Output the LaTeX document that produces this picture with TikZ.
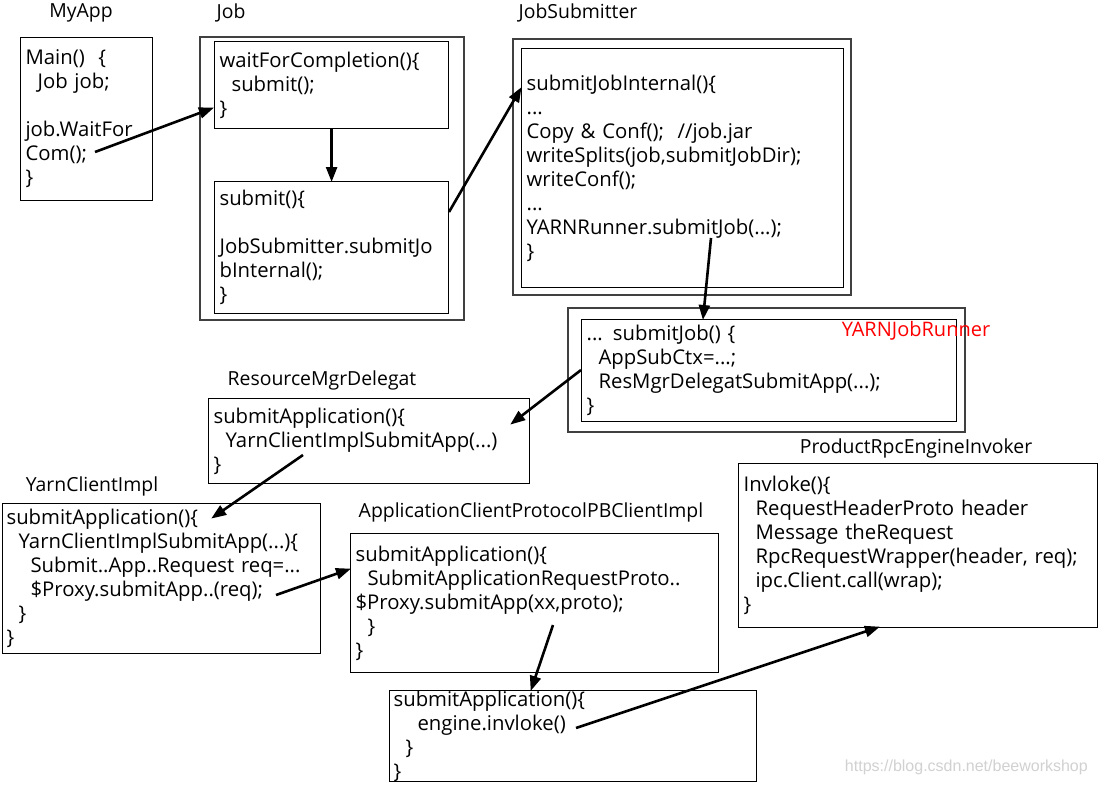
\documentclass[tikz,border=0pt]{standalone}
\usepackage{fontspec}
\setmainfont{Open Sans}
\newfontfamily\wmfont{Liberation Sans}
\usetikzlibrary{arrows.meta}
\newcommand{\ind}[1]{\hspace*{#1\dimexpr 12pt\relax}}
\tikzset{
  codebox/.style={draw=black, line width=1.2pt, anchor=north west, align=left,
    inner xsep=5pt, inner ysep=0pt, font=\fontsize{20.3}{24}\selectfont},
  outerbox/.style={draw=black!75, line width=1.2pt},
  title/.style={font=\fontsize{19.4}{22}\selectfont, inner sep=0pt},
  call/.style={line width=2.6pt, -{Triangle[length=15pt,width=11pt]}, shorten >=-1pt}
}
\begin{document}
\begin{tikzpicture}[x=1pt,y=-1pt]
\useasboundingbox[fill=white] (0,0) rectangle (1098,785);

% titles
\node[title] (tmyapp) at (81,13) {MyApp};
\node[title] (tjob) at (231,13) {Job};
\node[title] (tjs) at (578,13) {JobSubmitter};
\node[title] (trm) at (322,380) {ResourceMgrDelegat};
\node[title] (tyc) at (92,486) {YarnClientImpl};
\node[title] (tac) at (531,512) {ApplicationClientProtocolPBClientImpl};
\node[title] (tpr) at (916,448) {ProductRpcEngineInvoker};

% outer frames
\draw[outerbox] (200,37) rectangle (464,320) coordinate (jobouter);
\draw[outerbox] (513,39) rectangle (851,295) coordinate (jsouter);
\draw[outerbox] (568,308) rectangle (965,432) coordinate (yrouter);

% code boxes
\node[codebox, text width=122pt, minimum height=163pt] (myapp) at (20,37)
  {Main()\ \ \{\\ \ind{1}Job job;\\ \mbox{}\\ job.WaitFor\\ Com();\\ \}};
\node[codebox, text width=224pt, minimum height=87pt] (j1) at (214,41)
  {waitForCompletion()\{\\ \ind{1}submit();\\ \}};
\node[codebox, text width=224pt, minimum height=132pt] (j2) at (214,181)
  {submit()\{\\ \mbox{}\\ JobSubmitter.submitJo\\ bInternal();\\ \}};
\node[codebox, text width=312pt, minimum height=239pt] (js) at (521,48)
  {submitJobInternal()\{\\ ...\\ Copy \& Conf();\ \ //job.jar\\ writeSplits(job,submitJobDir);\\ writeConf();\\ ...\\ YARNRunner.submitJob(...);\\ \}};
\node[codebox, text width=365pt, minimum height=102pt] (yr) at (581,319)
  {... submitJob() \{\\ \ind{1}AppSubCtx=...;\\ \ind{1}ResMgrDelegatSubmitApp(...);\\ \}};
\node[font=\fontsize{20}{22}\selectfont, text=red, inner sep=0pt] (tyr) at (916,331) {YARNJobRunner};
\node[codebox, text width=311pt, minimum height=85pt] (rm) at (208,398)
  {submitApplication()\{\\ \ind{1}YarnClientImplSubmitApp(...)\\ \}};
\node[codebox, text width=310pt, minimum height=150pt, inner xsep=4pt] (yc) at (2,503)
  {submitApplication()\{\\ \ind{1}YarnClientImplSubmitApp(...)\{\\ \ind{2}Submit..App..Request req=...\\ \ind{2}\$Proxy.submitApp..(req);\\ \ind{1}\}\\ \}};
\node[codebox, text width=358pt, minimum height=139pt] (ac) at (350,533)
  {submitApplication()\{\\ \ind{1}SubmitApplicationRequestProto..\\ \$Proxy.submitApp(xx,proto);\\ \ind{1}\}\\ \}};
\node[codebox, text width=359pt, minimum height=87pt, inner xsep=4pt] (last) at (389,690)
  {submitApplication()\{\\ \ind{2}engine.invloke()\\ \ind{1}\}\\ \}};
\node[codebox, text width=349pt, minimum height=164pt] (pr) at (738,463)
  {Invloke()\{\\ \ind{1}RequestHeaderProto header\\ \ind{1}Message theRequest\\ \ind{1}RpcRequestWrapper(header, req);\\ \ind{1}ipc.Client.call(wrap);\\ \}};

\node[font=\wmfont\fontsize{16}{18}\selectfont, text=black!18, anchor=east, inner sep=0pt] (wm) at (1088,767) {https://blog.csdn.net/beeworkshop};

% connector end points
\coordinate (a1s) at (95,152);  \coordinate (a1e) at (213,108);
\coordinate (a3s) at (449,212); \coordinate (a3e) at (521,88);
\coordinate (a4s) at (711,238); \coordinate (a4e) at (703,319);
\coordinate (a5s) at (581,370); \coordinate (a5e) at (511,424);
\coordinate (a6s) at (303,455); \coordinate (a6e) at (212,518);
\coordinate (a7s) at (276,595); \coordinate (a7e) at (350,569);
\coordinate (a8s) at (553,625); \coordinate (a8e) at (531,690);
\coordinate (a9s) at (576,728); \coordinate (a9e) at (879,627);

\draw[call] (a1s) -- (a1e);
\draw[call] (j1.south) -- (j2.north);
\draw[call] (a3s) -- (a3e);
\draw[call] (a4s) -- (a4e);
\draw[call] (a5s) -- (a5e);
\draw[call] (a6s) -- (a6e);
\draw[call] (a7s) -- (a7e);
\draw[call] (a8s) -- (a8e);
\draw[call] (a9s) -- (a9e);
\end{tikzpicture}
\end{document}
